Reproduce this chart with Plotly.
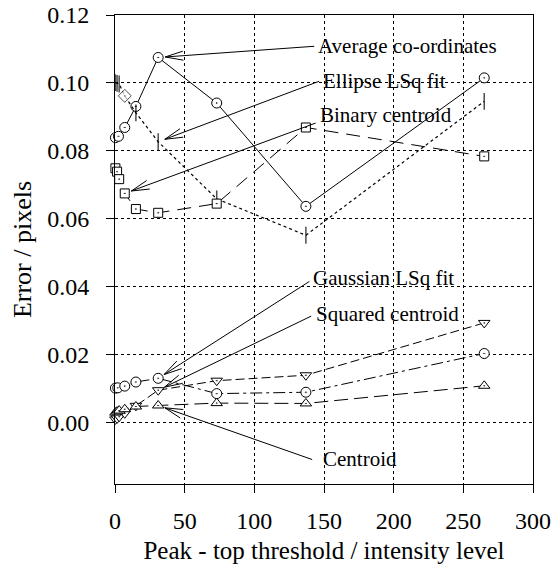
import math
import plotly.graph_objects as go

# ---------------- data ----------------
avg_x = [0.3, 2.5, 7, 15, 31, 73, 137, 265]
avg_y = [0.0839, 0.0843, 0.0869, 0.0931, 0.1075, 0.0941, 0.0637, 0.1015]

ell_x = [0.3, 1.5, 3, 7, 15, 31, 73, 137, 265]
ell_y = [0.1001, 0.0999, 0.0997, 0.0962, 0.0912, 0.0827, 0.0659, 0.0552, 0.0946]
ell_sym = ["line-ns-open", "line-ns-open", "line-ns-open", "diamond-dot",
           "line-ns-open", "line-ns-open", "line-ns-open", "line-ns-open", "line-ns-open"]
ell_col = ["black", "black", "black", "white",
           "black", "black", "black", "black", "black"]
ell_lw = [1.5, 1.5, 1.5, 1.0, 1.5, 1.5, 1.5, 1.5, 1.5]
ell_size = [12, 12, 12, 10, 12, 12, 12, 12, 12]

bin_x = [0.3, 1.5, 3, 7, 15, 31, 73, 137, 265]
bin_y = [0.0749, 0.0739, 0.0717, 0.0675, 0.0629, 0.0618, 0.0645, 0.0869, 0.0784]

gau_x = [0.3, 2, 7, 15, 31, 73, 137, 265]
gau_y = [0.0102, 0.0103, 0.0108, 0.0120, 0.0131, 0.0086, 0.0090, 0.0204]

sq_x = [0.3, 1.5, 3, 7, 15, 31, 73, 137, 265]
sq_y = [0.0010, 0.0013, 0.0018, 0.0028, 0.0050, 0.0096, 0.0124, 0.0140, 0.0294]

cen_x = [0.3, 1.5, 3, 7, 15, 31, 73, 137, 265]
cen_y = [0.0030, 0.0033, 0.0036, 0.0040, 0.0048, 0.0051, 0.0058, 0.0057, 0.0109]

x_ticks = [0, 50, 100, 150, 200, 250, 300]
y_ticks = [0.00, 0.02, 0.04, 0.06, 0.08, 0.10, 0.12]

# labels: text, text position (x, y), arrow tail (x, y), target series, target index
labels = [
    ("Average co-ordinates", 144.0, 0.1108, 143.0, 0.1108, "avg", 4),
    ("Ellipse LSq fit", 148.0, 0.1005, 146.5, 0.1005, "ell", 5),
    ("Binary centroid", 146.0, 0.0907, 144.0, 0.0882, "bin", 3),
    ("Gaussian LSq fit", 141.0, 0.0426, 139.5, 0.0416, "gau", 4),
    ("Squared centroid", 142.5, 0.0319, 140.8, 0.0314, "sq", 5),
    ("Centroid", 147.5, -0.0106, 141.5, -0.0108, "cen", 5),
]

# ---------------- layout geometry ----------------
W_FIG, H_FIG = 559, 575
ML, MR, MT, MB = 115, 26, 15, 91
XR = [0, 300]
YR = [-0.018, 0.12]
PW = W_FIG - ML - MR
PH = H_FIG - MT - MB
FONT = "Liberation Serif"


def to_px(x, y):
    return (ML + (x - XR[0]) / (XR[1] - XR[0]) * PW,
            MT + (YR[1] - y) / (YR[1] - YR[0]) * PH)


def to_data(px, py):
    return (XR[0] + (px - ML) / PW * (XR[1] - XR[0]),
            YR[1] - (py - MT) / PH * (YR[1] - YR[0]))


series = {
    "avg": (avg_x, avg_y), "ell": (ell_x, ell_y), "bin": (bin_x, bin_y),
    "gau": (gau_x, gau_y), "sq": (sq_x, sq_y), "cen": (cen_x, cen_y),
}

fig = go.Figure()


def add(xs, ys, dash, symbol, size=9, lw=1.0, mlw=1.0, color="white"):
    fig.add_trace(go.Scatter(
        x=xs, y=ys, mode="lines+markers",
        line=dict(color="black", width=lw, dash=dash),
        marker=dict(symbol=symbol, size=size, color=color,
                    line=dict(color="black", width=mlw)),
        showlegend=False, cliponaxis=False, hoverinfo="skip"))


add(avg_x, avg_y, "solid", "circle-dot", 10)
add(ell_x, ell_y, "dot", ell_sym, ell_size, 1.2, ell_lw, ell_col)
add(bin_x, bin_y, "14px,8px", "square-dot", 9)
add(gau_x, gau_y, "12px,4px,3px,4px", "circle-dot", 10)
add(sq_x, sq_y, "9px,4px", "triangle-down-dot", 10)
add(cen_x, cen_y, "14px,6px", "triangle-up-dot", 10)

shapes = []
annotations = []
HEAD_LEN, HEAD_HALF, GAP = 18, 4.5, 7
for text, tx, ty, ax_, ay_, key, idx in labels:
    annotations.append(dict(x=tx, y=ty, xref="x", yref="y", text=text,
                            showarrow=False, xanchor="left", yanchor="middle",
                            font=dict(family=FONT, size=21, color="black")))
    sx, sy = series[key]
    ppx, ppy = to_px(sx[idx], sy[idx])
    tpx, tpy = to_px(ax_, ay_)
    dx, dy = tpx - ppx, tpy - ppy
    d = math.hypot(dx, dy)
    ux, uy = dx / d, dy / d
    hx, hy = ppx + ux * GAP, ppy + uy * GAP
    hd = to_data(hx, hy)
    shapes.append(dict(type="line", xref="x", yref="y", x0=ax_, y0=ay_,
                       x1=hd[0], y1=hd[1], line=dict(color="black", width=1)))
    nx, ny = -uy, ux
    for s in (1, -1):
        ex = hx + ux * HEAD_LEN + nx * HEAD_HALF * s
        ey = hy + uy * HEAD_LEN + ny * HEAD_HALF * s
        ed = to_data(ex, ey)
        shapes.append(dict(type="line", xref="x", yref="y", x0=hd[0], y0=hd[1],
                           x1=ed[0], y1=ed[1], line=dict(color="black", width=1)))

fig.update_layout(
    width=W_FIG, height=H_FIG,
    margin=dict(l=ML, r=MR, t=MT, b=MB, autoexpand=False),
    paper_bgcolor="white", plot_bgcolor="white",
    font=dict(family=FONT, size=24, color="black"),
    shapes=shapes, annotations=annotations,
)
fig.update_xaxes(range=XR, tickvals=x_ticks, ticktext=[str(v) for v in x_ticks],
                 showline=True, mirror=True, linecolor="black", linewidth=1,
                 ticks="outside", ticklen=8, tickcolor="black", ticklabelstandoff=7,
                 showgrid=True, gridcolor="black", griddash="dot", gridwidth=1,
                 zeroline=False, tickfont=dict(family=FONT, size=24), automargin=False,
                 title=dict(text="Peak - top threshold / intensity level",
                            font=dict(family=FONT, size=25), standoff=8))
fig.update_yaxes(range=YR, tickvals=y_ticks, ticktext=[f"{v:.2f}" for v in y_ticks],
                 showline=True, mirror=True, linecolor="black", linewidth=1,
                 ticks="outside", ticklen=8, tickcolor="black", ticklabelstandoff=12,
                 showgrid=True, gridcolor="black", griddash="dot", gridwidth=1,
                 zeroline=False, tickfont=dict(family=FONT, size=24), automargin=False,
                 title=dict(text="Error / pixels", font=dict(family=FONT, size=26), standoff=8))

fig.write_html("out.html", config={"displayModeBar": False, "staticPlot": True},
               post_script="document.body.style.margin='0';document.body.style.padding='0';"
                           "document.body.style.overflow='hidden';")
